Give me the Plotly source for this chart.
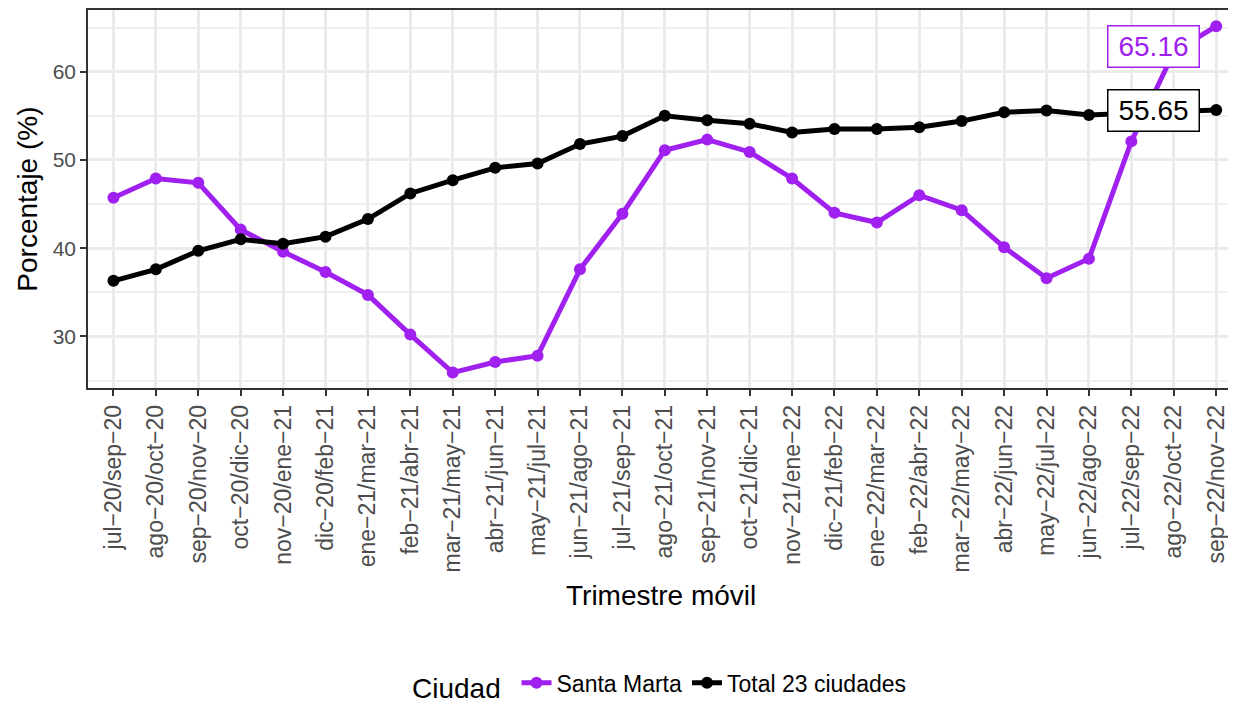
import plotly.graph_objects as go

categorias = [
    "jul−20/sep−20", "ago−20/oct−20", "sep−20/nov−20", "oct−20/dic−20",
    "nov−20/ene−21", "dic−20/feb−21", "ene−21/mar−21", "feb−21/abr−21",
    "mar−21/may−21", "abr−21/jun−21", "may−21/jul−21", "jun−21/ago−21",
    "jul−21/sep−21", "ago−21/oct−21", "sep−21/nov−21", "oct−21/dic−21",
    "nov−21/ene−22", "dic−21/feb−22", "ene−22/mar−22", "feb−22/abr−22",
    "mar−22/may−22", "abr−22/jun−22", "may−22/jul−22", "jun−22/ago−22",
    "jul−22/sep−22", "ago−22/oct−22", "sep−22/nov−22",
]

santa_marta = [45.7, 47.9, 47.4, 42.1, 39.6, 37.3, 34.7, 30.2, 25.9, 27.1,
               27.8, 37.6, 43.9, 51.1, 52.3, 50.9, 47.9, 44.0, 42.9, 46.0,
               44.3, 40.1, 36.6, 38.8, 52.1, 62.2, 65.16]

total_23 = [36.3, 37.6, 39.7, 41.0, 40.5, 41.3, 43.3, 46.2, 47.7, 49.1,
            49.6, 51.8, 52.7, 55.0, 54.5, 54.1, 53.1, 53.5, 53.5, 53.7,
            54.4, 55.4, 55.6, 55.1, 55.3, 55.5, 55.65]

nombres = ["Santa Marta", "Total 23 ciudades"]
colores = ["#A020F0", "#000000"]

FONT = "Liberation Sans, Arial, Helvetica, sans-serif"

fig = go.Figure()
for nombre, serie, color in zip(nombres, [santa_marta, total_23], colores):
    fig.add_trace(go.Scatter(
        x=categorias, y=serie, name=nombre, mode="lines+markers",
        line=dict(color=color, width=5),
        marker=dict(color=color, size=12),
    ))

# end labels
for serie, color, yshift in zip([santa_marta, total_23], colores, [-20, 0]):
    fig.add_annotation(
        x=categorias[-1], y=serie[-1], text=f"{serie[-1]:.2f}",
        xanchor="right", yanchor="middle", xshift=-16, yshift=yshift,
        showarrow=False, font=dict(family=FONT, size=28, color=color),
        bgcolor="white", bordercolor=color, borderwidth=1.5, borderpad=5,
        width=80, height=30,
    )

# axis titles
fig.add_annotation(
    text="Trimestre móvil", xref="paper", yref="paper", x=0.5, y=-0.55,
    xanchor="center", yanchor="middle", showarrow=False,
    font=dict(family=FONT, size=28, color="#000000"),
)
fig.add_annotation(
    text="Porcentaje (%)", xref="paper", yref="paper", x=-0.0535, y=0.5,
    xanchor="center", yanchor="middle", textangle=-90, showarrow=False,
    font=dict(family=FONT, size=28, color="#000000"),
)

fig.update_layout(
    width=1228, height=704,
    margin=dict(l=80, r=0, t=0, b=324),
    plot_bgcolor="white", paper_bgcolor="white",
    font=dict(family=FONT, color="#000000"),
    showlegend=True,
    legend=dict(
        orientation="h", x=0.5, xanchor="center", y=-0.785, yanchor="middle",
        title=dict(text="Ciudad ", font=dict(size=28, color="#000000")),
        font=dict(size=23, color="#000000"),
        itemwidth=30, tracegroupgap=0,
    ),
    xaxis=dict(
        type="category", range=[-0.6, 26.42],
        tickangle=-90, tickfont=dict(size=23, color="#4D4D4D"),
        ticks="outside", ticklen=6, tickcolor="#333333", tickwidth=1.5,
        showgrid=True, gridcolor="#EBEBEB", gridwidth=2.5,
        showline=True, linecolor="#333333", linewidth=1.5, mirror=True,
        zeroline=False,
    ),
    yaxis=dict(
        range=[24.15, 66.99], tickvals=[30, 40, 50, 60],
        tickfont=dict(size=21, color="#4D4D4D"),
        ticks="outside", ticklen=6, tickcolor="#333333", tickwidth=1.5,
        showgrid=True, gridcolor="#EBEBEB", gridwidth=2.5,
        minor=dict(tickvals=[25, 35, 45, 55, 65], showgrid=True,
                   gridcolor="#EFEFEF", gridwidth=1.8, ticks=""),
        showline=True, linecolor="#333333", linewidth=1.5, mirror=True,
        zeroline=False,
    ),
)

fig.write_html("out.html")
